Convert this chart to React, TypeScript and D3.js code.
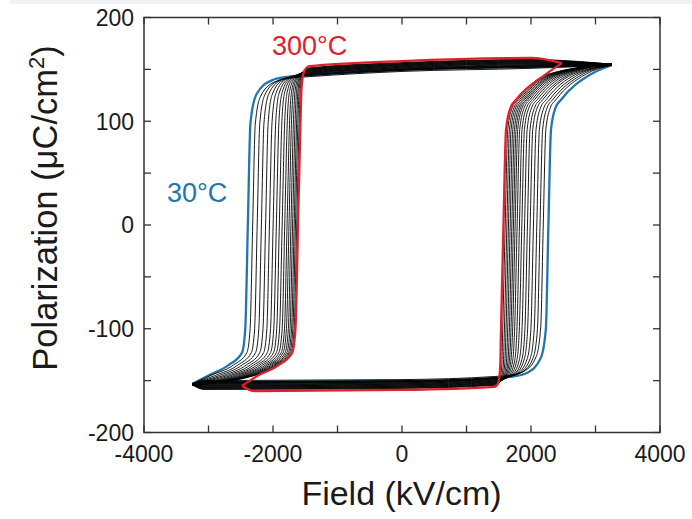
import React from "react";
import * as d3 from "d3";

// Temperatures of the measured loops (30 °C → 300 °C)
const temps = [30, 45, 60, 75, 90, 105, 120, 135, 150, 165, 180, 195, 210, 225, 240, 255, 270, 285, 300];
// Positive coercive field (kV/cm), read at P = 0 on the rising branch
const ecPos = [2270, 2190, 2140, 2090, 2038, 1987, 1945, 1900, 1858, 1821, 1785, 1754, 1728, 1703, 1677, 1651, 1626, 1600, 1573];
// Negative coercive field (kV/cm), read at P = 0 on the falling branch
const ecNeg = [-2390, -2315, -2245, -2180, -2115, -2055, -1998, -1948, -1902, -1858, -1818, -1782, -1752, -1722, -1696, -1672, -1652, -1632, -1612];
// Maximum applied field (kV/cm)
const eMax = [3250, 3250, 3250, 3250, 3250, 3250, 3250, 3250, 3250, 3250, 3250, 3250, 3250, 3250, 3250, 3250, 3250, 3250, 2480];
// Polarization level of the flat branches (µC/cm²)
const pFlat = [150.5, 149, 150, 150.5, 151, 151.5, 152, 152.5, 153, 153.5, 154, 154.5, 155, 155.5, 156, 156.5, 157, 157.5, 159];
// Polarization at the loop tips (µC/cm²)
const pTip = [154, 154, 154, 154, 154, 154, 155, 155, 155, 155, 155, 155, 155, 155, 155, 155, 155, 155, 156];

// Shape of the switching knee (fraction of the way to the coercive edge, relative P)
const kneeU = [0.35, 0.64, 0.9, 1.0];
const kneeK = [0.99, 0.965, 0.87, 0.68];
// Shape after switching (offset from coercive field, P)
const riseOff = [40, 110, 200];
const riseP = [92, 113, 121];
const fallOff = [-300, -90, -40];
const fallP = [-135, -123, -100];

const xTicksMajor = [-4000, -2000, 0, 2000, 4000];
const yTicksMajor = [-200, -100, 0, 100, 200];

const W = 692, H = 519;
const x = d3.scaleLinear().domain([-4000, 4000]).range([144, 660]);
const y = d3.scaleLinear().domain([-200, 200]).range([432.5, 17.5]);

const CR = 1440, CL = -1430;

function loopBranches(i: number) {
  const Ec = ecPos[i], En = ecNeg[i], Em = eMax[i], pf = pFlat[i], pt = pTip[i];
  const asc: [number, number][] = [
    [-Em, -pt + 1],
    [-Em + 180, -(pf + 1)],
    [0, -pf],
    [CR, -(pf - 3)],
    ...kneeU.map((u, j) => [CR + u * (Ec - 40 - CR), -(pf - 3) * kneeK[j]] as [number, number]),
    [Ec, 0],
    ...riseOff.map((o, j) => [Ec + o, riseP[j]] as [number, number]),
    [Math.min(Ec + 650, Em - 250), 145],
    [Em, pt],
  ];
  const desc: [number, number][] = [
    [-Em, -pt + 1],
    [Math.max(En - 650, -Em + 250), -145],
    ...fallOff.map((o, j) => [En + o, fallP[j]] as [number, number]),
    [En, 0],
    ...kneeU
      .map((u, j) => [CL + u * (En + 40 - CL), (pf - 6) * kneeK[j]] as [number, number])
      .reverse(),
    [CL, pf - 6],
    [0, pf - 1],
    [2000, pf + 2],
    [Em, pt],
  ];
  return [asc, desc];
}

const line = d3
  .line<[number, number]>()
  .x((d) => x(d[0]))
  .y((d) => y(d[1]))
  .curve(d3.curveMonotoneX);

const RED = "#e0202c";
const BLUE = "#2176ab";

export default function App() {
  const xMinor = x.ticks(8);
  const yMinor = y.ticks(8);
  const font = "'Liberation Sans', Arial, sans-serif";
  const x0 = x.range()[0], x1 = x.range()[1];
  const y0 = y.range()[1], y1 = y.range()[0];
  const order = temps.map((_, i) => i).filter((i) => i !== 0 && i !== temps.length - 1);

  return (
    <svg
      width={W}
      height={H}
      style={{ position: "absolute", left: 0, top: 0, background: "#fff" }}
      fontFamily={font}
    >
      <rect x={10} y={0} width={W - 10} height={4} fill="#eef2f7" />
      {/* loops */}
      <g fill="none" strokeLinejoin="round">
        {loopBranches(0).map((b, k) => (
          <path key={`blue${k}`} d={line(b) || ""} stroke={BLUE} strokeWidth={2.3} />
        ))}
        {order.map((i) =>
          loopBranches(i).map((b, k) => (
            <path key={`b${i}-${k}`} d={line(b) || ""} stroke="#000" strokeWidth={0.9} />
          ))
        )}
        {loopBranches(temps.length - 1).map((b, k) => (
          <path key={`red${k}`} d={line(b) || ""} stroke={RED} strokeWidth={2.3} />
        ))}
      </g>
      {/* frame */}
      <rect x={x0} y={y0} width={x1 - x0} height={y1 - y0} fill="none" stroke="#333" strokeWidth={1.5} />
      {/* ticks */}
      <g stroke="#333" strokeWidth={1.3}>
        {xMinor.map((t) => (
          <g key={`xt${t}`}>
            <line x1={x(t)} x2={x(t)} y1={y1} y2={y1 - 7} />
            <line x1={x(t)} x2={x(t)} y1={y0} y2={y0 + 7} />
          </g>
        ))}
        {yMinor.map((t) => (
          <g key={`yt${t}`}>
            <line x1={x0} x2={x0 + 7} y1={y(t)} y2={y(t)} />
            <line x1={x1} x2={x1 - 7} y1={y(t)} y2={y(t)} />
          </g>
        ))}
      </g>
      {/* tick labels */}
      <g fontSize={23} fill="#1a1a1a">
        {xTicksMajor.map((t) => (
          <text key={`xl${t}`} x={x(t)} y={462} textAnchor="middle">
            {t}
          </text>
        ))}
        {yTicksMajor.map((t) => (
          <text key={`yl${t}`} x={134} y={y(t)} dy="0.36em" textAnchor="end">
            {t}
          </text>
        ))}
      </g>
      {/* axis titles */}
      <text x={401.5} y={505} textAnchor="middle" fontSize={34} fill="#1a1a1a">
        Field (kV/cm)
      </text>
      <text
        transform={`translate(57,208) rotate(-90)`}
        textAnchor="middle"
        fontSize={34.5}
        fill="#1a1a1a"
      >
        Polarization (μC/cm
        <tspan fontSize={22} dy={-13}>2</tspan>
        <tspan dy={13}>)</tspan>
      </text>
      {/* annotations */}
      <text x={272} y={55} fontSize={27} fill={RED}>
        300°C
      </text>
      <text x={167} y={202} fontSize={27} fill={BLUE}>
        30°C
      </text>
    </svg>
  );
}
